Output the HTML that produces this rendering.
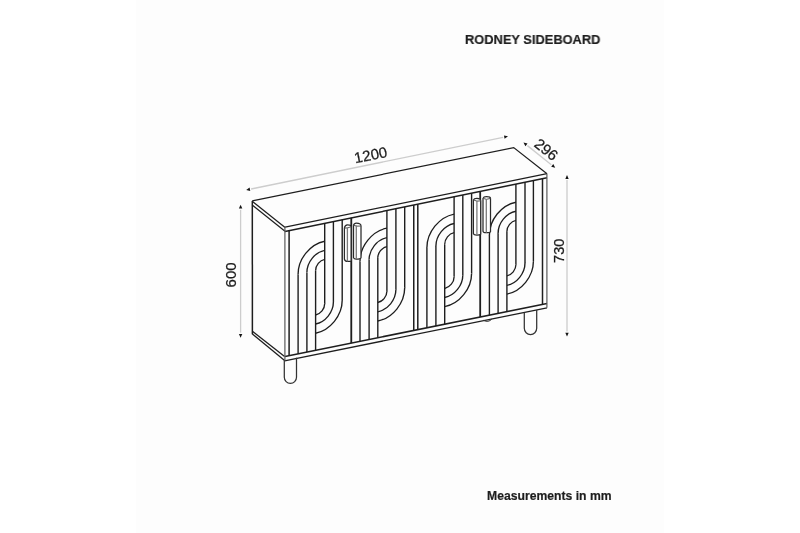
<!DOCTYPE html>
<html><head><meta charset="utf-8"><style>
html,body{margin:0;padding:0;background:#fff;}
body{width:800px;height:533px;position:relative;overflow:hidden;font-family:"Liberation Sans",sans-serif;}
svg{position:absolute;left:0;top:0;will-change:transform;}
.t{will-change:transform;position:absolute;font-weight:bold;color:#1e1e1e;-webkit-text-stroke:0.2px #1e1e1e;white-space:nowrap;line-height:1;transform-origin:0 0;}
</style></head><body>
<svg width="800" height="533" viewBox="0 0 800 533" font-family="Liberation Sans, sans-serif"><rect x="136" y="0" width="528" height="533" fill="#fdfdfd"/><path d="M252.2,200.9 L513.7,147.6 L547.0,173.7" fill="none" stroke="#1e1e1e" stroke-width="1.25"/><line x1="252.20" y1="201.20" x2="285.10" y2="227.40" stroke="#1e1e1e" stroke-width="1.25"/><line x1="252.20" y1="204.90" x2="285.00" y2="231.30" stroke="#1e1e1e" stroke-width="1.25"/><line x1="252.30" y1="200.90" x2="252.40" y2="334.20" stroke="#1e1e1e" stroke-width="1.5"/><line x1="252.40" y1="331.20" x2="284.60" y2="356.60" stroke="#1e1e1e" stroke-width="1.3"/><line x1="252.40" y1="334.00" x2="284.60" y2="360.40" stroke="#1e1e1e" stroke-width="1.3"/><line x1="285.10" y1="227.08" x2="547.00" y2="173.68" stroke="#1e1e1e" stroke-width="1.3"/><line x1="285.00" y1="231.48" x2="547.00" y2="177.74" stroke="#1e1e1e" stroke-width="1.5"/><line x1="285.00" y1="356.52" x2="547.00" y2="303.41" stroke="#1e1e1e" stroke-width="1.6"/><line x1="284.60" y1="360.81" x2="547.00" y2="307.83" stroke="#1e1e1e" stroke-width="1.3"/><line x1="284.90" y1="227.12" x2="284.90" y2="360.75" stroke="#5a5a5a" stroke-width="1.2"/><line x1="546.90" y1="173.70" x2="546.90" y2="307.85" stroke="#5a5a5a" stroke-width="1.2"/><line x1="289.10" y1="230.64" x2="289.10" y2="355.69" stroke="#1e1e1e" stroke-width="1.5"/><line x1="351.40" y1="217.86" x2="351.40" y2="343.06" stroke="#1e1e1e" stroke-width="1.5"/><line x1="298.10" y1="274.16" x2="298.10" y2="353.87" stroke="#1e1e1e" stroke-width="1.4"/><line x1="306.90" y1="272.40" x2="306.90" y2="352.08" stroke="#1e1e1e" stroke-width="1.4"/><line x1="315.60" y1="270.66" x2="315.60" y2="350.32" stroke="#1e1e1e" stroke-width="1.4"/><line x1="324.70" y1="223.33" x2="324.70" y2="303.71" stroke="#1e1e1e" stroke-width="1.4"/><line x1="333.40" y1="221.55" x2="333.40" y2="301.97" stroke="#1e1e1e" stroke-width="1.4"/><line x1="342.20" y1="219.74" x2="342.20" y2="300.21" stroke="#1e1e1e" stroke-width="1.4"/><line x1="351.30" y1="217.88" x2="351.30" y2="343.08" stroke="#1e1e1e" stroke-width="1.5"/><line x1="413.75" y1="205.07" x2="413.75" y2="330.42" stroke="#1e1e1e" stroke-width="1.5"/><line x1="360.00" y1="261.50" x2="360.00" y2="341.32" stroke="#1e1e1e" stroke-width="1.4"/><line x1="369.10" y1="259.68" x2="369.10" y2="339.47" stroke="#1e1e1e" stroke-width="1.4"/><line x1="377.80" y1="257.94" x2="377.80" y2="337.71" stroke="#1e1e1e" stroke-width="1.4"/><line x1="386.90" y1="210.58" x2="386.90" y2="291.21" stroke="#1e1e1e" stroke-width="1.4"/><line x1="395.90" y1="208.73" x2="395.90" y2="289.41" stroke="#1e1e1e" stroke-width="1.4"/><line x1="404.70" y1="206.93" x2="404.70" y2="287.65" stroke="#1e1e1e" stroke-width="1.4"/><line x1="417.80" y1="204.24" x2="417.80" y2="329.60" stroke="#1e1e1e" stroke-width="1.5"/><line x1="480.30" y1="191.42" x2="480.30" y2="316.93" stroke="#1e1e1e" stroke-width="1.5"/><line x1="426.90" y1="247.82" x2="426.90" y2="327.76" stroke="#1e1e1e" stroke-width="1.4"/><line x1="435.90" y1="246.02" x2="435.90" y2="325.93" stroke="#1e1e1e" stroke-width="1.4"/><line x1="444.70" y1="244.26" x2="444.70" y2="324.15" stroke="#1e1e1e" stroke-width="1.4"/><line x1="454.10" y1="196.79" x2="454.10" y2="276.77" stroke="#1e1e1e" stroke-width="1.4"/><line x1="462.80" y1="195.01" x2="462.80" y2="275.04" stroke="#1e1e1e" stroke-width="1.4"/><line x1="471.60" y1="193.20" x2="471.60" y2="273.27" stroke="#1e1e1e" stroke-width="1.4"/><line x1="480.30" y1="191.42" x2="480.30" y2="316.93" stroke="#1e1e1e" stroke-width="1.5"/><line x1="542.50" y1="178.66" x2="542.50" y2="304.33" stroke="#1e1e1e" stroke-width="1.5"/><line x1="489.40" y1="235.04" x2="489.40" y2="315.09" stroke="#1e1e1e" stroke-width="1.4"/><line x1="498.10" y1="233.30" x2="498.10" y2="313.33" stroke="#1e1e1e" stroke-width="1.4"/><line x1="506.90" y1="231.54" x2="506.90" y2="311.54" stroke="#1e1e1e" stroke-width="1.4"/><line x1="515.90" y1="184.12" x2="515.90" y2="264.75" stroke="#1e1e1e" stroke-width="1.4"/><line x1="525.00" y1="182.25" x2="525.00" y2="262.93" stroke="#1e1e1e" stroke-width="1.4"/><line x1="533.40" y1="180.53" x2="533.40" y2="261.25" stroke="#1e1e1e" stroke-width="1.4"/><g transform="matrix(1,-0.2,0,1,0,284.420)"><path d="M298.1,49.36 A26.60,27.66 0 0 1 324.7,21.70 M306.9,49.36 A17.80,18.51 0 0 1 324.7,30.85 M315.6,49.36 A9.10,9.46 0 0 1 324.7,39.90 M324.7,84.23 A9.10,9.46 0 0 1 315.6,93.69 M333.4,84.23 A17.80,18.51 0 0 1 315.6,102.74 M342.2,84.23 A26.60,27.66 0 0 1 315.6,111.89 M360.0,49.08 A26.90,27.98 0 0 1 386.9,21.10 M369.1,49.08 A17.80,18.51 0 0 1 386.9,30.57 M377.8,49.08 A9.10,9.46 0 0 1 386.9,39.62 M386.9,84.17 A9.10,9.46 0 0 1 377.8,93.63 M395.9,84.17 A18.10,18.82 0 0 1 377.8,102.99 M404.7,84.17 A26.90,27.98 0 0 1 377.8,112.15 M426.9,48.778 A27.20,28.29 0 0 1 454.1,20.49 M435.9,48.778 A18.20,18.93 0 0 1 454.1,29.85 M444.7,48.778 A9.40,9.78 0 0 1 454.1,39.00 M454.1,83.175 A9.40,9.78 0 0 1 444.7,92.95 M462.8,83.175 A18.10,18.82 0 0 1 444.7,102.00 M471.6,83.175 A26.90,27.98 0 0 1 444.7,111.15 M489.4,48.5 A26.50,27.56 0 0 1 515.9,20.94 M498.1,48.5 A17.80,18.51 0 0 1 515.9,29.99 M506.9,48.5 A9.00,9.36 0 0 1 515.9,39.14 M515.9,83.514 A9.00,9.36 0 0 1 506.9,92.87 M525.0,83.514 A18.10,18.82 0 0 1 506.9,102.34 M533.4,83.514 A26.50,27.56 0 0 1 506.9,111.07" fill="none" stroke="#1e1e1e" stroke-width="1.4"/></g><path d="M284.3,360.2 L284.3,377.3 A6.1,6.1 0 0 0 296.5,377.3 L296.5,357.8" fill="none" stroke="#333" stroke-width="1.25"/><path d="M524.3,312.4 L524.3,328.3 A6.2,6.2 0 0 0 536.7,328.3 L536.7,309.9" fill="none" stroke="#333" stroke-width="1.25"/><path d="M483.4,320.3 Q488.2,323.0 491.9,319.0" fill="none" stroke="#333" stroke-width="1.0"/><path d="M344.4,228.1 Q345.0,224.9 347.4,224.9 Q351.1,224.9 351.1,226.7 L351.1,261.0 Q350.6,261.4 347.4,261.4 Q344.79999999999995,261.4 344.4,259.1 Z" fill="#fff" stroke="#2a2a2a" stroke-width="1.25"/><path d="M344.4,228.1 Q347.4,228.5 351.1,226.7" fill="none" stroke="#555" stroke-width="1.0"/><line x1="347.40" y1="227.30" x2="347.40" y2="261.40" stroke="#7a7a7a" stroke-width="1.3"/><path d="M353.5,225.3 Q354.1,223.0 356.3,223.0 Q361.0,223.0 361.0,226.0 L361.0,257.7 Q360.5,259.1 356.3,259.1 Q353.9,259.1 353.5,257.7 Z" fill="#fff" stroke="#2a2a2a" stroke-width="1.25"/><path d="M353.5,225.3 Q356.3,226.6 361.0,226.0" fill="none" stroke="#555" stroke-width="1.0"/><line x1="356.30" y1="225.40" x2="356.30" y2="259.10" stroke="#7a7a7a" stroke-width="1.3"/><path d="M473.4,199.9 Q474.0,198.4 476.9,198.4 Q480.7,198.4 480.7,200.8 L480.7,234.1 Q480.2,235.0 476.9,235.0 Q473.79999999999995,235.0 473.4,233.6 Z" fill="#fff" stroke="#2a2a2a" stroke-width="1.25"/><path d="M473.4,199.9 Q476.9,202.0 480.7,200.8" fill="none" stroke="#555" stroke-width="1.0"/><line x1="476.90" y1="200.80" x2="476.90" y2="235.00" stroke="#7a7a7a" stroke-width="1.3"/><path d="M483.0,198.4 Q483.6,196.6 486.3,196.6 Q490.5,196.6 490.5,198.4 L490.5,231.7 Q490.0,232.7 486.3,232.7 Q483.4,232.7 483.0,231.3 Z" fill="#fff" stroke="#2a2a2a" stroke-width="1.25"/><path d="M483.0,198.4 Q486.3,200.2 490.5,198.4" fill="none" stroke="#555" stroke-width="1.0"/><line x1="486.30" y1="199.00" x2="486.30" y2="232.70" stroke="#7a7a7a" stroke-width="1.3"/><line x1="251.10" y1="189.00" x2="503.10" y2="137.30" stroke="#cdcdcd" stroke-width="1.3"/><path d="M246.20,190.00 L249.58,187.57 L250.26,190.90 Z" fill="#151515"/><path d="M508.00,136.30 L504.62,138.73 L503.94,135.40 Z" fill="#151515"/><line x1="527.41" y1="145.62" x2="551.29" y2="164.68" stroke="#cdcdcd" stroke-width="1.3"/><path d="M523.50,142.50 L527.53,143.54 L525.41,146.20 Z" fill="#151515"/><path d="M555.20,167.80 L551.17,166.76 L553.29,164.10 Z" fill="#151515"/><line x1="240.60" y1="209.80" x2="240.60" y2="332.70" stroke="#cdcdcd" stroke-width="1.3"/><path d="M240.60,204.80 L242.30,208.60 L238.90,208.60 Z" fill="#151515"/><path d="M240.60,337.70 L238.90,333.90 L242.30,333.90 Z" fill="#151515"/><line x1="567.00" y1="180.10" x2="567.00" y2="331.50" stroke="#cdcdcd" stroke-width="1.3"/><path d="M567.00,175.10 L568.70,178.90 L565.30,178.90 Z" fill="#151515"/><path d="M567.00,336.50 L565.30,332.70 L568.70,332.70 Z" fill="#151515"/><text x="0" y="5.4" transform="translate(370.6,154.8) rotate(-11.0)" text-anchor="middle" font-size="15" fill="#1c1c1c" stroke="#1c1c1c" stroke-width="0.25">1200</text><text x="0" y="5.4" transform="translate(546.3,149.3) rotate(38.5)" text-anchor="middle" font-size="15" fill="#1c1c1c" stroke="#1c1c1c" stroke-width="0.25">296</text><text x="0" y="5.2" transform="translate(558.4,250.8) rotate(-90)" text-anchor="middle" font-size="14.5" fill="#1c1c1c" stroke="#1c1c1c" stroke-width="0.25">730</text><text x="0" y="5.4" transform="translate(230.7,274.9) rotate(-90)" text-anchor="middle" font-size="15" fill="#1c1c1c" stroke="#1c1c1c" stroke-width="0.25">600</text></svg>
<div class="t" style="left:465.2px;top:32.5px;font-size:13.3px;transform:scaleX(0.966);">RODNEY SIDEBOARD</div>
<div class="t" style="left:486.5px;top:490px;font-size:12px;transform:scaleX(1.015);">Measurements in mm</div>
</body></html>
